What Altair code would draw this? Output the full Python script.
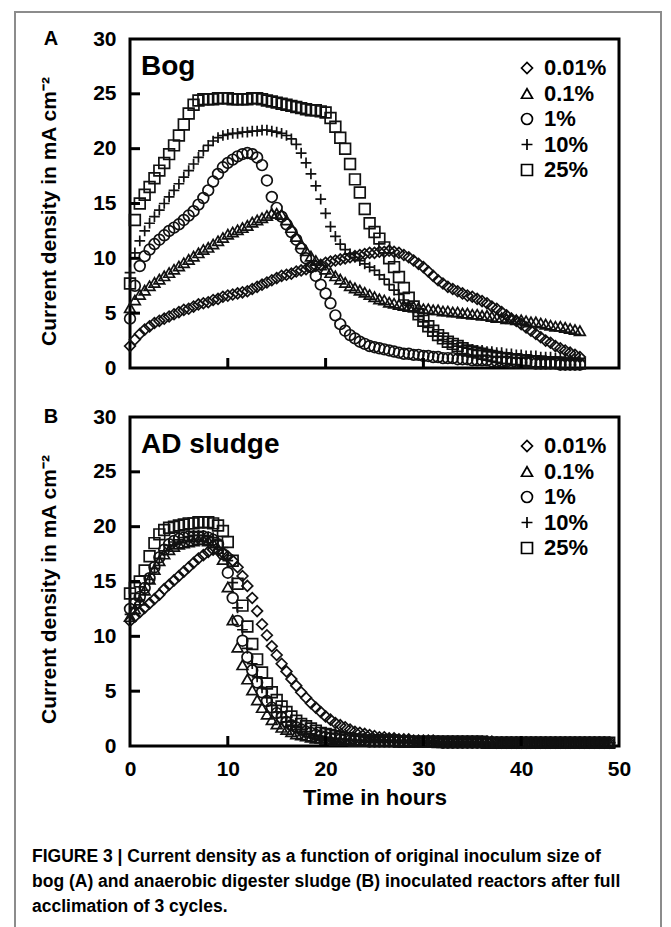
import altair as alt
import pandas as pd

# ---------------- data ----------------
series_labels = ["0.01%", "0.1%", "1%", "10%", "25%"]
series_shapes = ["diamond", "triangle-up", "circle", "M-1,0L1,0M0,-1L0,1", "square"]

# Panel A (Bog): readings every half hour, 0 .. 46 h
time_a = [0, 0.5, 1, 1.5, 2, 2.5, 3, 3.5, 4, 4.5,
          5, 5.5, 6, 6.5, 7, 7.5, 8, 8.5, 9, 9.5,
          10, 10.5, 11, 11.5, 12, 12.5, 13, 13.5, 14, 14.5,
          15, 15.5, 16, 16.5, 17, 17.5, 18, 18.5, 19, 19.5,
          20, 20.5, 21, 21.5, 22, 22.5, 23, 23.5, 24, 24.5,
          25, 25.5, 26, 26.5, 27, 27.5, 28, 28.5, 29, 29.5,
          30, 30.5, 31, 31.5, 32, 32.5, 33, 33.5, 34, 34.5,
          35, 35.5, 36, 36.5, 37, 37.5, 38, 38.5, 39, 39.5,
          40, 40.5, 41, 41.5, 42, 42.5, 43, 43.5, 44, 44.5,
          45, 45.5, 46]

bog_001 = [2.0, 2.6, 3.1, 3.5, 3.8, 4.1, 4.3, 4.5, 4.7, 4.9,
           5.1, 5.3, 5.4, 5.6, 5.8, 5.9, 6.0, 6.2, 6.3, 6.5,
           6.6, 6.7, 6.8, 6.9, 7.0, 7.2, 7.4, 7.6, 7.8, 8.0,
           8.2, 8.4, 8.5, 8.6, 8.8, 8.9, 9.0, 9.2, 9.3, 9.4,
           9.6, 9.7, 9.8, 9.9, 10.0, 10.1, 10.2, 10.3, 10.4, 10.5,
           10.5, 10.6, 10.6, 10.7, 10.6, 10.5, 10.3, 10.1, 9.8, 9.5,
           9.2, 8.8, 8.4, 8.0, 7.7, 7.4, 7.2, 7.0, 6.8, 6.6,
           6.5, 6.3, 6.1, 5.9, 5.6, 5.4, 5.1, 4.8, 4.5, 4.3,
           4.0, 3.7, 3.4, 3.1, 2.8, 2.5, 2.3, 2.0, 1.8, 1.6,
           1.4, 1.2, 1.0]
bog_01 = [5.5, 6.2, 6.7, 7.1, 7.5, 7.8, 8.1, 8.4, 8.7, 9.0,
          9.3, 9.6, 9.9, 10.2, 10.5, 10.8, 11.0, 11.3, 11.6, 11.9,
          12.2, 12.4, 12.6, 12.8, 13.0, 13.3, 13.5, 13.7, 13.9, 14.1,
          14.1, 14.0, 13.5, 12.8, 12.0, 11.3, 10.7, 10.2, 9.8, 9.4,
          9.0, 8.7, 8.4, 8.1, 7.8, 7.5, 7.3, 7.1, 6.9, 6.7,
          6.5, 6.3, 6.2, 6.0, 5.9, 5.8, 5.7, 5.6, 5.6, 5.5,
          5.4, 5.4, 5.3, 5.3, 5.2, 5.2, 5.1, 5.1, 5.0, 5.0,
          4.9, 4.9, 4.8, 4.8, 4.7, 4.6, 4.6, 4.5, 4.5, 4.4,
          4.4, 4.3, 4.2, 4.2, 4.1, 4.0, 3.9, 3.8, 3.8, 3.7,
          3.6, 3.5, 3.4]
bog_1 = [4.5, 7.5, 9.3, 10.2, 10.8, 11.3, 11.7, 12.1, 12.5, 12.8,
         13.1, 13.5, 13.9, 14.3, 14.9, 15.5, 16.2, 17.0, 17.7, 18.3,
         18.7, 19.0, 19.3, 19.5, 19.6, 19.5, 19.2, 18.5, 17.1, 15.6,
         14.6, 13.8, 13.1, 12.4, 11.7, 10.9, 10.0, 9.2, 8.4, 7.6,
         6.8, 5.9, 4.8, 4.0, 3.4, 3.0, 2.7, 2.4, 2.2, 2.0,
         1.9, 1.8, 1.7, 1.6, 1.5, 1.4, 1.3, 1.3, 1.2, 1.2,
         1.1, 1.1, 1.0, 1.0, 0.9, 0.9, 0.9, 0.8, 0.8, 0.8,
         0.7, 0.7, 0.7, 0.7, 0.6, 0.6, 0.6, 0.6, 0.5, 0.5,
         0.5, 0.5, 0.5, 0.4, 0.4, 0.4, 0.4, 0.4, 0.3, 0.3,
         0.3, 0.3, 0.3]
bog_10 = [8.7, 10.5, 11.6, 12.5, 13.2, 13.8, 14.4, 15.0, 15.6, 16.2,
          16.8, 17.4, 18.0, 18.6, 19.2, 19.8, 20.3, 20.7, 21.0, 21.2,
          21.3, 21.4, 21.4, 21.5, 21.5, 21.6, 21.6, 21.7, 21.7, 21.6,
          21.5, 21.4, 21.2, 20.9, 20.4, 19.6, 18.7, 17.7, 16.6, 15.4,
          14.1, 12.9, 12.0, 11.3, 10.8, 10.4, 10.1, 9.8, 9.5, 9.2,
          8.9, 8.5, 8.1, 7.6, 7.1, 6.7, 6.2, 5.7, 5.2, 4.7,
          4.2, 3.7, 3.3, 2.9, 2.6, 2.4, 2.2, 2.0, 1.9, 1.8,
          1.7, 1.6, 1.6, 1.5, 1.5, 1.4, 1.4, 1.3, 1.3, 1.2,
          1.2, 1.1, 1.1, 1.1, 1.0, 1.0, 1.0, 0.9, 0.9, 0.9,
          0.8, 0.8, 0.7]
bog_25 = [7.7, 13.5, 15.0, 15.8, 16.5, 17.3, 18.0, 18.7, 19.5, 20.3,
          21.2, 22.2, 23.2, 24.0, 24.4, 24.5, 24.5, 24.5, 24.6, 24.6,
          24.6, 24.5, 24.5, 24.5, 24.5, 24.6, 24.6, 24.5, 24.4, 24.3,
          24.2, 24.1, 24.0, 23.9, 23.8, 23.7, 23.6, 23.5, 23.5, 23.4,
          23.3, 22.8, 22.0, 21.0, 20.0, 18.6, 17.2, 16.0, 14.5, 13.2,
          12.4, 11.8, 11.0, 10.0, 9.2, 8.3, 7.3, 6.4, 5.6, 4.9,
          4.3, 3.8, 3.4, 3.0, 2.7, 2.4, 2.2, 2.0, 1.8, 1.6,
          1.5, 1.4, 1.3, 1.2, 1.1, 1.0, 0.9, 0.9, 0.8, 0.8,
          0.7, 0.7, 0.6, 0.6, 0.6, 0.5, 0.5, 0.5, 0.5, 0.4,
          0.4, 0.4, 0.4]

# Panel B (AD sludge): readings every half hour, 0 .. 49 h
time_b = [0, 0.5, 1, 1.5, 2, 2.5, 3, 3.5, 4, 4.5,
          5, 5.5, 6, 6.5, 7, 7.5, 8, 8.5, 9, 9.5,
          10, 10.5, 11, 11.5, 12, 12.5, 13, 13.5, 14, 14.5,
          15, 15.5, 16, 16.5, 17, 17.5, 18, 18.5, 19, 19.5,
          20, 20.5, 21, 21.5, 22, 22.5, 23, 23.5, 24, 24.5,
          25, 25.5, 26, 26.5, 27, 27.5, 28, 28.5, 29, 29.5,
          30, 30.5, 31, 31.5, 32, 32.5, 33, 33.5, 34, 34.5,
          35, 35.5, 36, 36.5, 37, 37.5, 38, 38.5, 39, 39.5,
          40, 40.5, 41, 41.5, 42, 42.5, 43, 43.5, 44, 44.5,
          45, 45.5, 46, 46.5, 47, 47.5, 48, 48.5, 49]

ad_001 = [11.4, 11.8, 12.2, 12.6, 13.0, 13.4, 13.8, 14.3, 14.7, 15.1,
          15.5, 15.9, 16.3, 16.7, 17.1, 17.4, 17.7, 17.9, 17.8, 17.6,
          17.3, 16.9, 16.3, 15.5, 14.6, 13.5, 12.3, 11.1, 10.1, 9.1,
          8.3, 7.5, 6.8, 6.1, 5.5, 4.9, 4.4, 3.9, 3.5, 3.1,
          2.7, 2.4, 2.1, 1.9, 1.7, 1.5, 1.3, 1.2, 1.1, 1.0,
          0.9, 0.8, 0.8, 0.7, 0.7, 0.6, 0.6, 0.6, 0.5, 0.5,
          0.5, 0.5, 0.5, 0.4, 0.4, 0.4, 0.4, 0.4, 0.4, 0.4,
          0.4, 0.4, 0.4, 0.4, 0.4, 0.3, 0.3, 0.3, 0.3, 0.3,
          0.3, 0.3, 0.3, 0.3, 0.3, 0.3, 0.3, 0.3, 0.3, 0.3,
          0.3, 0.3, 0.3, 0.3, 0.3, 0.3, 0.3, 0.3, 0.3]
ad_01 = [11.8, 12.5, 13.3, 14.2, 15.2, 16.1, 16.9, 17.5, 17.9, 18.2,
         18.4, 18.5, 18.6, 18.7, 18.8, 18.8, 18.7, 18.5, 18.0, 17.0,
         14.5, 11.5, 9.0, 7.4, 6.1, 5.1, 4.2, 3.5, 2.9, 2.4,
         2.0, 1.7, 1.5, 1.3, 1.1, 1.0, 0.9, 0.8, 0.7, 0.7,
         0.6, 0.6, 0.5, 0.5, 0.5, 0.5, 0.4, 0.4, 0.4, 0.4,
         0.4, 0.4, 0.4, 0.4, 0.4, 0.4, 0.4, 0.4, 0.4, 0.4,
         0.4, 0.4, 0.4, 0.3, 0.3, 0.3, 0.3, 0.3, 0.3, 0.3,
         0.3, 0.3, 0.3, 0.3, 0.3, 0.3, 0.3, 0.3, 0.3, 0.3,
         0.3, 0.3, 0.3, 0.3, 0.3, 0.3, 0.3, 0.3, 0.3, 0.3,
         0.3, 0.3, 0.3, 0.3, 0.3, 0.3, 0.3, 0.3, 0.3]
ad_1 = [12.5, 13.0, 13.6, 14.4, 15.3, 16.3, 17.2, 17.9, 18.4, 18.7,
        18.9, 19.0, 19.1, 19.1, 19.1, 19.1, 19.0, 18.8, 18.4, 17.5,
        15.8, 13.5, 11.4, 9.6, 8.1, 6.9, 5.8, 4.9, 4.1, 3.5,
        3.0, 2.6, 2.2, 1.9, 1.7, 1.5, 1.3, 1.2, 1.0, 0.9,
        0.8, 0.7, 0.7, 0.6, 0.6, 0.5, 0.5, 0.5, 0.5, 0.4,
        0.4, 0.4, 0.4, 0.4, 0.4, 0.4, 0.4, 0.4, 0.4, 0.4,
        0.4, 0.4, 0.4, 0.4, 0.3, 0.3, 0.3, 0.3, 0.3, 0.3,
        0.3, 0.3, 0.3, 0.3, 0.3, 0.3, 0.3, 0.3, 0.3, 0.3,
        0.3, 0.3, 0.3, 0.3, 0.3, 0.3, 0.3, 0.3, 0.3, 0.3,
        0.3, 0.3, 0.3, 0.3, 0.3, 0.3, 0.3, 0.3, 0.3]
ad_10 = [12.0, 12.6, 13.3, 14.2, 15.2, 16.2, 17.1, 17.8, 18.3, 18.6,
         18.8, 19.0, 19.1, 19.2, 19.2, 19.2, 19.1, 19.0, 18.7, 18.1,
         16.9, 14.9, 12.6, 10.6, 8.9, 7.5, 6.3, 5.3, 4.4, 3.7,
         3.1, 2.6, 2.2, 1.9, 1.7, 1.5, 1.3, 1.1, 1.0, 0.9,
         0.8, 0.7, 0.7, 0.6, 0.6, 0.5, 0.5, 0.5, 0.4, 0.4,
         0.4, 0.4, 0.4, 0.4, 0.4, 0.4, 0.4, 0.4, 0.4, 0.4,
         0.4, 0.4, 0.4, 0.4, 0.4, 0.4, 0.3, 0.3, 0.3, 0.3,
         0.3, 0.3, 0.3, 0.3, 0.3, 0.3, 0.3, 0.3, 0.3, 0.3,
         0.3, 0.3, 0.3, 0.3, 0.3, 0.3, 0.3, 0.3, 0.3, 0.3,
         0.3, 0.3, 0.3, 0.3, 0.3, 0.3, 0.3, 0.3, 0.3]
ad_25 = [13.9, 14.4, 15.0, 16.0, 17.3, 18.5, 19.3, 19.7, 19.9, 20.0,
         20.1, 20.2, 20.3, 20.3, 20.4, 20.4, 20.4, 20.3, 20.1, 19.6,
         18.6, 16.9, 14.8, 12.8, 10.9, 9.3, 7.9, 6.7, 5.7, 4.9,
         4.2, 3.6, 3.1, 2.7, 2.3, 2.0, 1.8, 1.6, 1.4, 1.2,
         1.1, 1.0, 0.9, 0.8, 0.7, 0.7, 0.6, 0.6, 0.5, 0.5,
         0.5, 0.5, 0.5, 0.5, 0.5, 0.4, 0.4, 0.4, 0.4, 0.4,
         0.4, 0.4, 0.4, 0.4, 0.4, 0.4, 0.4, 0.4, 0.4, 0.4,
         0.4, 0.4, 0.4, 0.3, 0.3, 0.3, 0.3, 0.3, 0.3, 0.3,
         0.3, 0.3, 0.3, 0.3, 0.3, 0.3, 0.3, 0.3, 0.3, 0.3,
         0.3, 0.3, 0.3, 0.3, 0.3, 0.3, 0.3, 0.3, 0.3]

y_label_values = [0, 5, 10, 15, 20, 25, 30]
x_label_values = [0, 10, 20, 30, 40, 50]
inner_y_ticks = [5, 10, 15, 20, 25]
inner_x_ticks = [10, 20, 30, 40]

panel_names = ["Bog", "AD sludge"]
panel_letters = ["A", "B"]
y_title = "Current density in mA cm\u207b\u00b2"
x_title = "Time in hours"
caption_lines = [
    "FIGURE 3 | Current density as a function of original inoculum size of",
    "bog (A) and anaerobic digester sludge (B) inoculated reactors after full",
    "acclimation of 3 cycles.",
]

# ---------------- style ----------------
W, H = 489, 329
FONT = "Liberation Sans"
INK = "#111111"
FRAME = "#8c8c8c"


def to_long(times, cols):
    rows = []
    for lab, vals in zip(series_labels, cols):
        assert len(vals) == len(times), (lab, len(vals), len(times))
        for t, v in zip(times, vals):
            rows.append({"t": t, "v": v, "series": lab})
    return pd.DataFrame(rows)


df_a = to_long(time_a, [bog_001, bog_01, bog_1, bog_10, bog_25])
df_b = to_long(time_b, [ad_001, ad_01, ad_1, ad_10, ad_25])

x_scale = alt.Scale(domain=[0, 50], nice=False, zero=False)
y_scale = alt.Scale(domain=[0, 30], nice=False)
one = pd.DataFrame({"k": [0]})


def frame_rule(**enc):
    return alt.Chart(one).mark_rule(color=FRAME, strokeWidth=2).encode(**enc)


def panel(df, idx, bottom):
    y_axis = alt.Axis(values=y_label_values, title=None, domain=False, ticks=False,
                      grid=False, labelFont=FONT, labelFontSize=21,
                      labelFontWeight="bold", labelColor="black", labelPadding=14)
    if bottom:
        x_axis = alt.Axis(values=x_label_values, title=x_title, domain=False,
                          ticks=False, grid=False, labelFlush=False, labelOverlap=False,
                          labelFont=FONT, labelFontSize=21, labelFontWeight="bold",
                          labelColor="black", labelPadding=12, titleFont=FONT,
                          titleFontSize=22, titleFontWeight="bold", titleColor="black",
                          titlePadding=8)
    else:
        x_axis = None

    legend = alt.Legend(orient="none", legendX=386, legendY=18, title=None,
                        labelFont=FONT, labelFontSize=22, labelFontWeight="bold",
                        labelColor="black", symbolSize=120, symbolStrokeWidth=1.7,
                        symbolStrokeColor="black", symbolFillColor="transparent",
                        rowPadding=3.5, labelOffset=6, padding=0)

    pts = alt.Chart(df).mark_point(filled=False, size=115, strokeWidth=1.7,
                                   color=INK, opacity=1).encode(
        x=alt.X("t:Q", scale=x_scale, axis=x_axis),
        y=alt.Y("v:Q", scale=y_scale, axis=y_axis),
        shape=alt.Shape("series:N", scale=alt.Scale(domain=series_labels,
                                                    range=series_shapes),
                        legend=legend),
    )
    yt = alt.Chart(pd.DataFrame({"v": inner_y_ticks})).mark_rule(
        color="black", strokeWidth=3).encode(
        y=alt.Y("v:Q", scale=y_scale, axis=y_axis), x=alt.value(0), x2=alt.value(10))
    xt = alt.Chart(pd.DataFrame({"t": inner_x_ticks})).mark_rule(
        color="black", strokeWidth=3).encode(
        x=alt.X("t:Q", scale=x_scale, axis=x_axis), y=alt.value(H), y2=alt.value(H - 10))
    name = alt.Chart(one).mark_text(align="left", baseline="alphabetic", font=FONT,
                                    fontSize=28, fontWeight="bold", color="black").encode(
        x=alt.value(11), y=alt.value(36), text=alt.value(panel_names[idx]))
    letter = alt.Chart(one).mark_text(align="center", baseline="middle", font=FONT,
                                      fontSize=20, fontWeight="bold", color="black").encode(
        x=alt.value(-79), y=alt.value(0), text=alt.value(panel_letters[idx]))
    ytitle = alt.Chart(one).mark_text(align="center", baseline="middle", angle=270,
                                      font=FONT, fontSize=21, fontWeight="bold",
                                      color="black").encode(
        x=alt.value(-80), y=alt.value(H / 2 + 8), text=alt.value(y_title))
    layers = [pts, yt, xt, name, letter, ytitle]
    if idx == 0:
        layers += [
            frame_rule(x=alt.value(-115), y=alt.value(-28), y2=alt.value(891)),
            frame_rule(x=alt.value(531), y=alt.value(-28), y2=alt.value(891)),
            frame_rule(x=alt.value(-116), x2=alt.value(532), y=alt.value(-27)),
        ]
    else:
        cap = alt.Chart(one).mark_text(align="left", baseline="middle", font=FONT,
                                       fontSize=17.5, fontWeight="bold", color="black",
                                       lineHeight=25, text=caption_lines).encode(
            x=alt.value(-98), y=alt.value(440))
        layers.append(cap)
    return alt.layer(*layers).properties(width=W, height=H)


chart = alt.vconcat(panel(df_a, 0, False), panel(df_b, 1, True),
                    spacing=49, bounds="flush").resolve_scale(
    x="independent", y="independent", shape="independent").resolve_legend(
    shape="independent").properties(
    padding={"left": 11, "top": 8, "right": 0, "bottom": 0},
    background="white",
).configure_view(stroke="black", strokeWidth=3)

chart.save("out.html", embed_options={"renderer": "svg", "actions": False})
